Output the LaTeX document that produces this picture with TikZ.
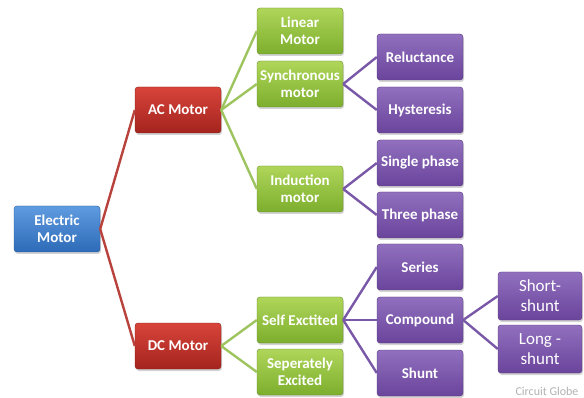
\documentclass[tikz,border=0pt]{standalone}
\usepackage{fontspec}
\setmainfont{Carlito}
\usetikzlibrary{shadows}
\usetikzlibrary{positioning}

\definecolor{bluetop}{HTML}{5E9BE0}
\definecolor{bluebot}{HTML}{2E6BB8}
\definecolor{redtop}{HTML}{D8443A}
\definecolor{redbot}{HTML}{A4241E}
\definecolor{greentop}{HTML}{AFD65A}
\definecolor{greenbot}{HTML}{7DAE2E}
\definecolor{purpletop}{HTML}{9170BE}
\definecolor{purplebot}{HTML}{6A449C}
\definecolor{redline}{HTML}{B8423C}
\definecolor{greenline}{HTML}{9DC45E}
\definecolor{purpleline}{HTML}{7A58A8}

\tikzset{
  box/.style={rounded corners=3pt, minimum width=86pt, minimum height=46pt,
    inner sep=1pt, align=center, text=white,
    font=\bfseries\fontsize{15}{17}\selectfont,
    drop shadow={opacity=0.35, shadow xshift=1pt, shadow yshift=-2pt}},
  bluebox/.style={box, top color=bluetop, bottom color=bluebot, draw=bluebot!80!black},
  redbox/.style={box, top color=redtop, bottom color=redbot, draw=redbot!80!black},
  greenbox/.style={box, top color=greentop, bottom color=greenbot, draw=greenbot!80!black},
  purplebox/.style={box, top color=purpletop, bottom color=purplebot, draw=purplebot!80!black},
  shuntbox/.style={purplebox, minimum width=84pt, minimum height=48pt,
    font=\fontsize{17}{20}\selectfont},
  link/.style={line width=2.4pt}
}

\begin{document}
\begin{tikzpicture}[x=1pt, y=-1pt]
  \useasboundingbox (0,0) rectangle (584,398);

  % root and first level
  \node[bluebox] (elec) at (57,229) {Electric\\Motor};
  \node[redbox] (ac) at (178,110) {AC Motor};
  \node[redbox] (dc) at (178,346) {DC Motor};

  % second level
  \foreach \name/\x/\y/\txt in {lin/300/31/{Linear\\Motor}, sync/300/84/{Synchronous\\motor},
      ind/300/189/{Induction\\motor}, selfx/300/320/{Self Exctited},
      sepx/300/372/{Seperately\\Excited}} {
    \node[greenbox] (\name) at (\x,\y) {\txt};
  }

  % third level
  \foreach \name/\y/\txt in {rel/57/Reluctance, hys/110/Hysteresis, single/163/Single phase,
      three/215/Three phase, series/267/Series, comp/320/Compound, shunt/373/Shunt} {
    \node[purplebox] (\name) at (420,\y) {\txt};
  }

  \node[shuntbox] (short) at (540,296) {Short-\\shunt};
  \node[shuntbox] (long) at (540,349) {Long -\\shunt};

  \node[text=gray!60, font=\fontsize{12}{14}\selectfont] (credit) at (547,391) {Circuit Globe};

  % lines
  \foreach \src/\dst in {elec/ac, elec/dc}
    \draw[link, redline] (\src.east) -- (\dst.west);
  \foreach \src/\dst in {ac/lin, ac/sync, ac/ind, dc/selfx, dc/sepx}
    \draw[link, greenline] (\src.east) -- (\dst.west);
  \foreach \src/\dst in {sync/rel, sync/hys, ind/single, ind/three, selfx/series, selfx/comp,
      selfx/shunt, comp/short, comp/long}
    \draw[link, purpleline] (\src.east) -- (\dst.west);
\end{tikzpicture}
\end{document}
